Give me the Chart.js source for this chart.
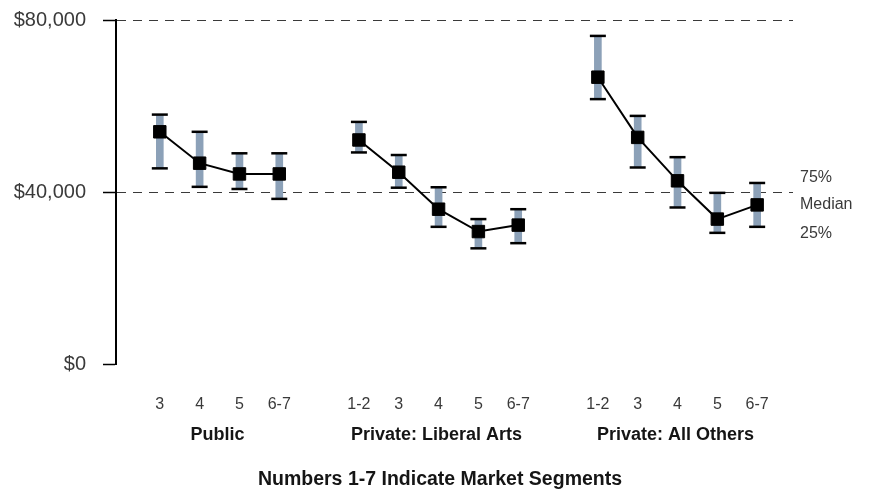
<!DOCTYPE html>
<html>
<head>
<meta charset="utf-8">
<script src="https://cdn.jsdelivr.net/npm/chart.js@4/dist/chart.umd.min.js"></script>
<style>
  html, body { margin: 0; padding: 0; background: #ffffff; }
  #wrap { width: 870px; height: 490px; position: relative; }
</style>
</head>
<body>
<div id="wrap"><canvas id="chart" width="870" height="490"></canvas></div>
<script>
// Salary quartiles by institution type and market segment
const groupNames = ['Public', 'Private: Liberal Arts', 'Private: All Others'];

const publicSegments = ['3', '4', '5', '6-7'];
const publicMedian = [54000, 46700, 44200, 44200];
const publicP75    = [58000, 54000, 49000, 49000];
const publicP25    = [45500, 41200, 40700, 38400];

const liberalSegments = ['1-2', '3', '4', '5', '6-7'];
const liberalMedian = [52100, 44600, 36000, 30800, 32300];
const liberalP75    = [56300, 48600, 41100, 33700, 36000];
const liberalP25    = [49200, 41000, 31900, 26900, 28100];

const othersSegments = ['1-2', '3', '4', '5', '6-7'];
const othersMedian = [66700, 52700, 42600, 33700, 37000];
const othersP75    = [76300, 57700, 48100, 39800, 42100];
const othersP25    = [61600, 45700, 36400, 30500, 31900];

const yTickValues = [0, 40000, 80000];
const keyLabels = ['75%', 'Median', '25%'];
const axisTitle = 'Numbers 1-7 Indicate Market Segments';

// Lay the groups out along one index axis, leaving an empty slot between groups
const groups = [
  { name: groupNames[0], seg: publicSegments,  med: publicMedian,  hi: publicP75,  lo: publicP25 },
  { name: groupNames[1], seg: liberalSegments, med: liberalMedian, hi: liberalP75, lo: liberalP25 },
  { name: groupNames[2], seg: othersSegments,  med: othersMedian,  hi: othersP75,  lo: othersP25 }
];
const slotLabels = [];
groups.forEach((g, gi) => {
  if (gi > 0) slotLabels.push('');
  g.start = slotLabels.length;
  g.seg.forEach(s => slotLabels.push(s));
});

const barData = [], capData = [], lineSets = [];
groups.forEach(g => {
  const pts = [];
  g.seg.forEach((s, i) => {
    const x = g.start + i;
    barData.push({ x: x, y: [g.lo[i], g.hi[i]] });
    capData.push({ x: x, y: g.hi[i] });
    capData.push({ x: x, y: g.lo[i] });
    pts.push({ x: x, y: g.med[i] });
  });
  lineSets.push({
    type: 'line',
    label: g.name,
    data: pts,
    borderColor: '#000000',
    borderWidth: 2,
    tension: 0,
    pointStyle: 'rect',
    pointRadius: 8.8,
    pointBackgroundColor: '#000000',
    pointBorderColor: '#000000',
    pointBorderWidth: 1,
    order: 1
  });
});

const FONT = "'Liberation Sans', Arial, sans-serif";

// Group names, axis caption and the quartile key
const extraText = {
  id: 'extraText',
  afterDraw(chart) {
    const ctx = chart.ctx;
    const xs = chart.scales.x;
    const area = chart.chartArea;
    ctx.save();
    ctx.textBaseline = 'middle';
    ctx.textAlign = 'center';
    ctx.fillStyle = '#151515';
    ctx.font = 'bold 18px ' + FONT;
    groups.forEach(g => {
      const mid = g.start + (g.seg.length - 1) / 2;
      ctx.fillText(g.name, xs.getPixelForValue(mid) - 2, 435);
    });
    ctx.font = 'bold 19.5px ' + FONT;
    ctx.fillText(axisTitle, 440, 480);

    ctx.textAlign = 'left';
    ctx.fillStyle = '#3a3a3a';
    ctx.font = '16px ' + FONT;
    const keyY = [178, 205, 234];
    keyLabels.forEach((t, i) => ctx.fillText(t, area.right + 7, keyY[i]));
    ctx.restore();
  }
};

new Chart(document.getElementById('chart'), {
  type: 'bar',
  data: {
    datasets: [
      {
        type: 'bar',
        label: 'Interquartile range',
        data: barData,
        backgroundColor: '#8ca1b8',
        borderWidth: 0,
        barThickness: 7,
        order: 3
      },
      {
        type: 'scatter',
        label: 'Quartiles',
        data: capData,
        pointStyle: 'line',
        pointRadius: 8,
        pointBorderWidth: 2.5,
        pointBorderColor: '#000000',
        pointBackgroundColor: '#000000',
        order: 2
      },
      ...lineSets
    ]
  },
  options: {
    responsive: false,
    animation: false,
    events: [],
    layout: { padding: { left: 13, right: 77, top: 20, bottom: 77 } },
    plugins: {
      legend: { display: false },
      tooltip: { enabled: false },
      title: { display: false }
    },
    scales: {
      x: {
        type: 'linear',
        offset: false,
        min: -1.1,
        max: 15.9,
        grid: { display: false, drawTicks: false },
        border: { display: false },
        afterBuildTicks(scale) {
          scale.ticks = slotLabels.map((_, i) => ({ value: i }));
        },
        afterFit(scale) { scale.height = 49; },
        ticks: {
          autoSkip: false,
          maxRotation: 0,
          padding: 31,
          color: '#3a3a3a',
          font: { family: FONT, size: 16 },
          callback: (v) => slotLabels[v] ?? ''
        }
      },
      y: {
        min: 0,
        max: 80000,
        afterBuildTicks(scale) {
          scale.ticks = yTickValues.map(v => ({ value: v }));
        },
        afterFit(scale) {
          scale.width = 103;
          scale.paddingTop = 0;
          scale.paddingBottom = 0;
        },
        grid: {
          color: (c) => (c.tick && c.tick.value === 0) ? 'rgba(0,0,0,0)' : '#3a3a3a',
          lineWidth: 1,
          tickColor: '#000000',
          tickLength: 13,
          tickWidth: 1.5
        },
        border: { display: true, color: '#000000', width: 2, dash: [9, 7] },
        ticks: {
          padding: 17,
          color: '#3a3a3a',
          font: { family: FONT, size: 20 },
          callback: (v) => '$' + Number(v).toLocaleString('en-US')
        }
      }
    }
  },
  plugins: [extraText]
});
</script>
</body>
</html>
